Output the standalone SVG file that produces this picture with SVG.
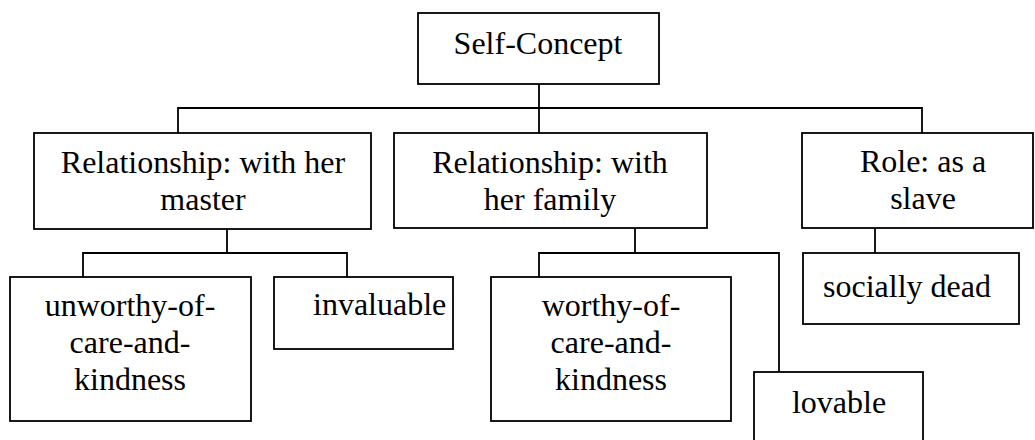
<svg xmlns="http://www.w3.org/2000/svg" width="1035" height="440" viewBox="0 0 1035 440">
  <style>
    .box { fill: #ffffff; stroke: #000000; stroke-width: 1.8; }
    .link { fill: none; stroke: #000000; stroke-width: 1.8; }
    text { font-family: 'Liberation Serif', 'Times New Roman', serif; font-size: 32px; fill: #000000; }
    .mid { text-anchor: middle; }
  </style>
  <rect width="1035" height="440" fill="#ffffff"/>

  <!-- connectors: elbow lines from each parent to its children -->
  <g id="connectors">
    <path class="link" d="M539,84 V133 M178,133 V108 H922 V133"/>
    <path class="link" d="M227,229 V253 M83,277 V253 H347 V277"/>
    <path class="link" d="M635,228 V253 M539,277 V253 H779 V372"/>
    <path class="link" d="M875,228 V253"/>
  </g>

  <g id="nodes">
    <g id="self-concept">
      <rect class="box" x="418" y="13" width="241" height="71"/>
      <text class="mid" x="538" y="54">Self-Concept</text>
    </g>

    <g id="rel-master">
      <rect class="box" x="34" y="133" width="337" height="96"/>
      <text class="mid" x="203" y="173">Relationship: with her</text>
      <text class="mid" x="203" y="210">master</text>
    </g>

    <g id="rel-family">
      <rect class="box" x="394" y="133" width="313" height="95"/>
      <text class="mid" x="550" y="173">Relationship: with</text>
      <text class="mid" x="550" y="210">her family</text>
    </g>

    <g id="role-slave">
      <rect class="box" x="802" y="133" width="231" height="95"/>
      <text class="mid" x="923" y="172">Role: as a</text>
      <text class="mid" x="923" y="209">slave</text>
    </g>

    <g id="unworthy">
      <rect class="box" x="10" y="277" width="241" height="144"/>
      <text class="mid" x="130" y="316">unworthy-of-</text>
      <text class="mid" x="130" y="353">care-and-</text>
      <text class="mid" x="130" y="390">kindness</text>
    </g>

    <g id="invaluable">
      <rect class="box" x="274" y="277" width="179" height="72"/>
      <text x="313" y="315">invaluable</text>
    </g>

    <g id="worthy">
      <rect class="box" x="491" y="277" width="240" height="144"/>
      <text class="mid" x="611" y="316">worthy-of-</text>
      <text class="mid" x="611" y="353">care-and-</text>
      <text class="mid" x="611" y="390">kindness</text>
    </g>

    <g id="lovable">
      <rect class="box" x="754" y="372" width="169" height="70"/>
      <text class="mid" x="839" y="413">lovable</text>
    </g>

    <g id="socially-dead">
      <rect class="box" x="803" y="253" width="216" height="71"/>
      <text x="823" y="297">socially dead</text>
    </g>
  </g>
</svg>
